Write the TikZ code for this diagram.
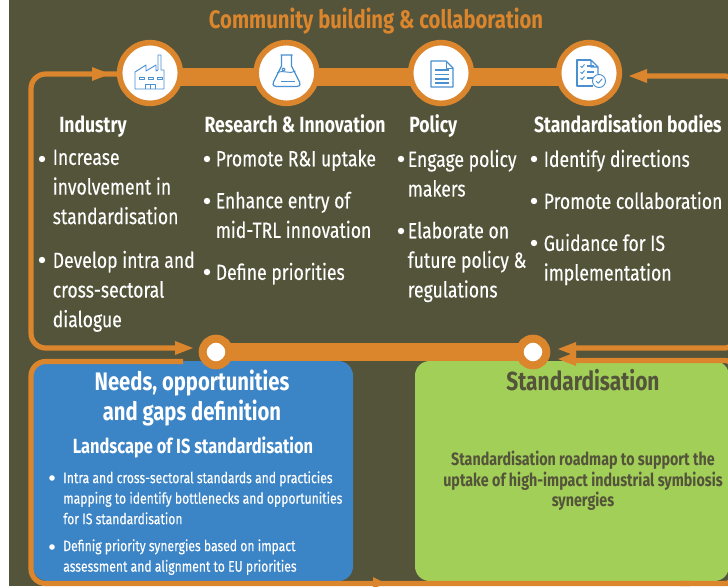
\documentclass[tikz,border=0pt]{standalone}
\usepackage{fontspec}
\setmainfont[FakeStretch=0.8]{Fira Sans}
\newfontfamily\bodyfont[FakeStretch=0.8,FakeBold=0.25]{Fira Sans}
\usetikzlibrary{arrows.meta}
\definecolor{olive}{HTML}{54543B}
\definecolor{orange2}{HTML}{DB852C}
\definecolor{blue2}{HTML}{3B84C6}
\definecolor{green2}{HTML}{A2CF58}
\definecolor{icon}{HTML}{4A90D0}
\tikzset{
 x=0.75pt,y=-0.75pt,
 bar/.style={line width=13.5pt,orange2},
 loop/.style={draw=orange2,line width=3.9pt,rounded corners=11pt},
 edge loop/.style={draw=orange2,line width=3.9pt,rounded corners=5pt},
 hub/.style={circle,fill=white,draw=orange2,line width=4.2pt,minimum size=45.5pt,inner sep=0pt},
 dot/.style={circle,fill=white,draw=orange2,line width=6pt,minimum size=20pt,inner sep=0pt},
 head/.style={fill=orange2,draw=none},
 heading/.style={font=\bfseries\fontsize{16.5}{20}\selectfont,text=white,inner sep=0pt,anchor=base},
 big/.style={font=\bfseries\fontsize{19}{22.5}\selectfont,text=white,inner sep=0pt,anchor=base},
 body/.style={font=\bodyfont\fontsize{16.5}{22.2}\selectfont,text=white,inner sep=0pt,align=left,anchor=north west},
 blt/.style={circle,fill=white,inner sep=0pt,minimum size=4.8pt},
 smallb/.style={font=\bodyfont\fontsize{11.4}{15.4}\selectfont,text=white,inner sep=0pt,align=left,anchor=north west},
 ic/.style={draw=icon,line width=0.7pt,line join=round,fill=none},
}
\begin{document}
\begin{tikzpicture}
\useasboundingbox (0,0) rectangle (728,586);
\fill[white] (0,0) rectangle (728,586);
\fill[olive] (9,0) rectangle (728,586);
% boxes
\fill[blue2,rounded corners=11pt] (33,361) rectangle (353,581);
\fill[green2,rounded corners=11pt] (415,361) rectangle (729,581);
% loops
\draw[loop] (120,74) -- (31,74) -- (31,348) -- (185,348);
\fill[head] (110,74) -- (92,67) -- (92,81) -- cycle;
\fill[head] (193,348) -- (175,341) -- (175,355) -- cycle;
\draw[edge loop] (640,76) -- (732,76) -- (732,130);
\fill[head] (629,76) -- (647,69) -- (647,83) -- cycle;
\draw[edge loop] (570,348) -- (732,348) -- (732,300);
\draw[edge loop] (570,360.5) -- (732,360.5) -- (732,420);
\fill[head] (558,349) -- (576,342) -- (576,356) -- cycle;
\fill[head] (558,359) -- (576,352) -- (576,366) -- cycle;
\draw[loop] (183,361.5) -- (31,361.5) -- (31,583.5) -- (690,583.5);
\draw[edge loop] (680,583.5) -- (732,583.5) -- (732,530);
\fill[head] (385,583) -- (373,577) -- (373,589) -- cycle;
% bars
\draw[bar] (150,77) -- (589,77);
\draw[bar] (216,352) -- (533,352);
% hubs
\node[hub] (ind) at (150,73) {};
\node[hub] (res) at (286.5,73) {};
\node[hub] (pol) at (441,73) {};
\node[hub] (std) at (589,73) {};
\node[dot] (d1) at (216,352) {};
\node[dot] (d2) at (533,352) {};
% icons
\begin{scope}[shift={(150,73)}]
 \draw[ic] (-15,16) -- (-15,-1) -- (-4,-8) -- (-4,-2) -- (6,-8) -- (6,-2) -- (8,-3) -- (8,-18) -- (11,-18) -- (11,-3) -- (14,-3) -- (14,16) -- cycle;
 \draw[ic] (-11,4) rectangle (-6,6.5) (-2,4) rectangle (3,6.5) (7,4) rectangle (12,6.5);
 \draw[ic] (-5,16) -- (-5,11) -- (5,11) -- (5,16) (0,11) -- (0,16);
\end{scope}
\begin{scope}[shift={(286.5,73)}]
 \draw[ic,line width=0.9pt] (-6,-18) -- (6,-18) (-5,-18) -- (-5,-7) -- (-13,9) .. controls (-14.5,13) and (-12,13.5) .. (-10,13.5) -- (10,13.5) .. controls (12,13.5) and (14.5,13) .. (13,9) -- (5,-7) -- (5,-18);
 \draw[ic] (-9.5,0) .. controls (-3,-4) and (3,2) .. (9,-2);
 \draw[ic] (-3,-3.5) circle (1.6);
 \draw[ic] (-6,8.5) -- (8,8.5);
\end{scope}
\begin{scope}[shift={(441,73)}]
 \draw[ic,line width=0.9pt] (-10,-12) -- (5,-12) -- (12,-5) -- (12,14) -- (-10,14) -- cycle;
 \draw[ic] (5,-12) -- (5,-5) -- (12,-5);
 \foreach \yy in {-3,1.5,6,10} \draw[ic,line width=0.9pt] (-6,\yy) -- (8,\yy);
\end{scope}
\begin{scope}[shift={(589,73)}]
 \draw[ic,line width=0.9pt] (2,-13) -- (-12,-13) -- (-12,13) -- (4,13);
 \draw[ic,line width=0.9pt] (2,-13) -- (9,-6) -- (9,1) (2,-13) -- (2,-6) -- (9,-6);
 \foreach \yy in {-7,-1,5} {
  \draw[ic] (-8.5,\yy) -- (-7,{\yy+1.5}) -- (-4.5,{\yy-1.5});
  \draw[ic,line width=0.9pt] (-2,\yy) -- (5,\yy);
 }
 \draw[ic,fill=white] (10,8) circle (6.5);
 \draw[ic] (7,8) -- (9.3,10.2) -- (13.2,5.8);
\end{scope}
% texts
\node[big,text=orange2] (title) at (376,28.2) {Community building \& collaboration};
\node[heading] (h1) at (93,132) {Industry};
\node[heading] (h2) at (295,132) {Research \& Innovation};
\node[heading,anchor=base west] (h3) at (409,132) {Policy};
\node[heading,anchor=base east] (h4) at (722,132) {Standardisation bodies};
\node[body] (t1a) at (52.5,149.5) {Increase\\involvement in\\standardisation};
\node[blt] (b1a) at (42,159) {};
\node[body] (t1b) at (52.5,250.5) {Develop intra and\\cross-sectoral\\dialogue};
\node[blt] (b1b) at (42,260) {};
\node[body] (t2a) at (215.5,149.5) {Promote R\&I uptake};
\node[blt] (b2a) at (207,159) {};
\node[body] (t2b) at (215.5,191.5) {Enhance entry of\\mid-TRL innovation};
\node[blt] (b2b) at (207,201) {};
\node[body] (t2c) at (215.5,262.5) {Define priorities};
\node[blt] (b2c) at (207,272) {};
\node[body] (t3a) at (407.5,149.5) {Engage policy\\makers};
\node[blt] (b3a) at (401,159) {};
\node[body] (t3b) at (407.5,221.5) {Elaborate on\\future policy \&\\regulations};
\node[blt] (b3b) at (401,231) {};
\node[body] (t4a) at (543.5,149.5) {Identify directions};
\node[blt] (b4a) at (534,159) {};
\node[body] (t4b) at (543.5,191.5) {Promote collaboration};
\node[blt] (b4b) at (534,201) {};
\node[body] (t4c) at (543.5,233.5) {Guidance for IS\\implementation};
\node[blt] (b4c) at (534,243) {};
\node[big,anchor=center,align=center] (n1) at (192,398.5) {Needs, opportunities\\and gaps definition};
\node[heading,font=\bfseries\fontsize{15.4}{18}\selectfont] (n2) at (193,453) {Landscape of IS standardisation};
\node[smallb] (n3) at (63,471) {Intra and cross-sectoral standards and practicies\\mapping to identify bottlenecks and opportunities\\for IS standardisation};
\node[blt,minimum size=4.2pt] (b5) at (52,478) {};
\node[smallb] (n4) at (63,539) {Definig priority synergies based on impact\\assessment and alignment to EU priorities};
\node[blt,minimum size=4.2pt] (b6) at (52,547) {};
\node[big,text=olive,font=\bfseries\fontsize{19.6}{22}\selectfont] (g1) at (583,390.5) {Standardisation};
\node[font=\bfseries\fontsize{13.4}{15.4}\selectfont,text=olive,align=center,inner sep=0pt] (g2) at (583,481) {Standardisation roadmap to support the\\uptake of high-impact industrial symbiosis\\synergies};
\end{tikzpicture}
\end{document}
